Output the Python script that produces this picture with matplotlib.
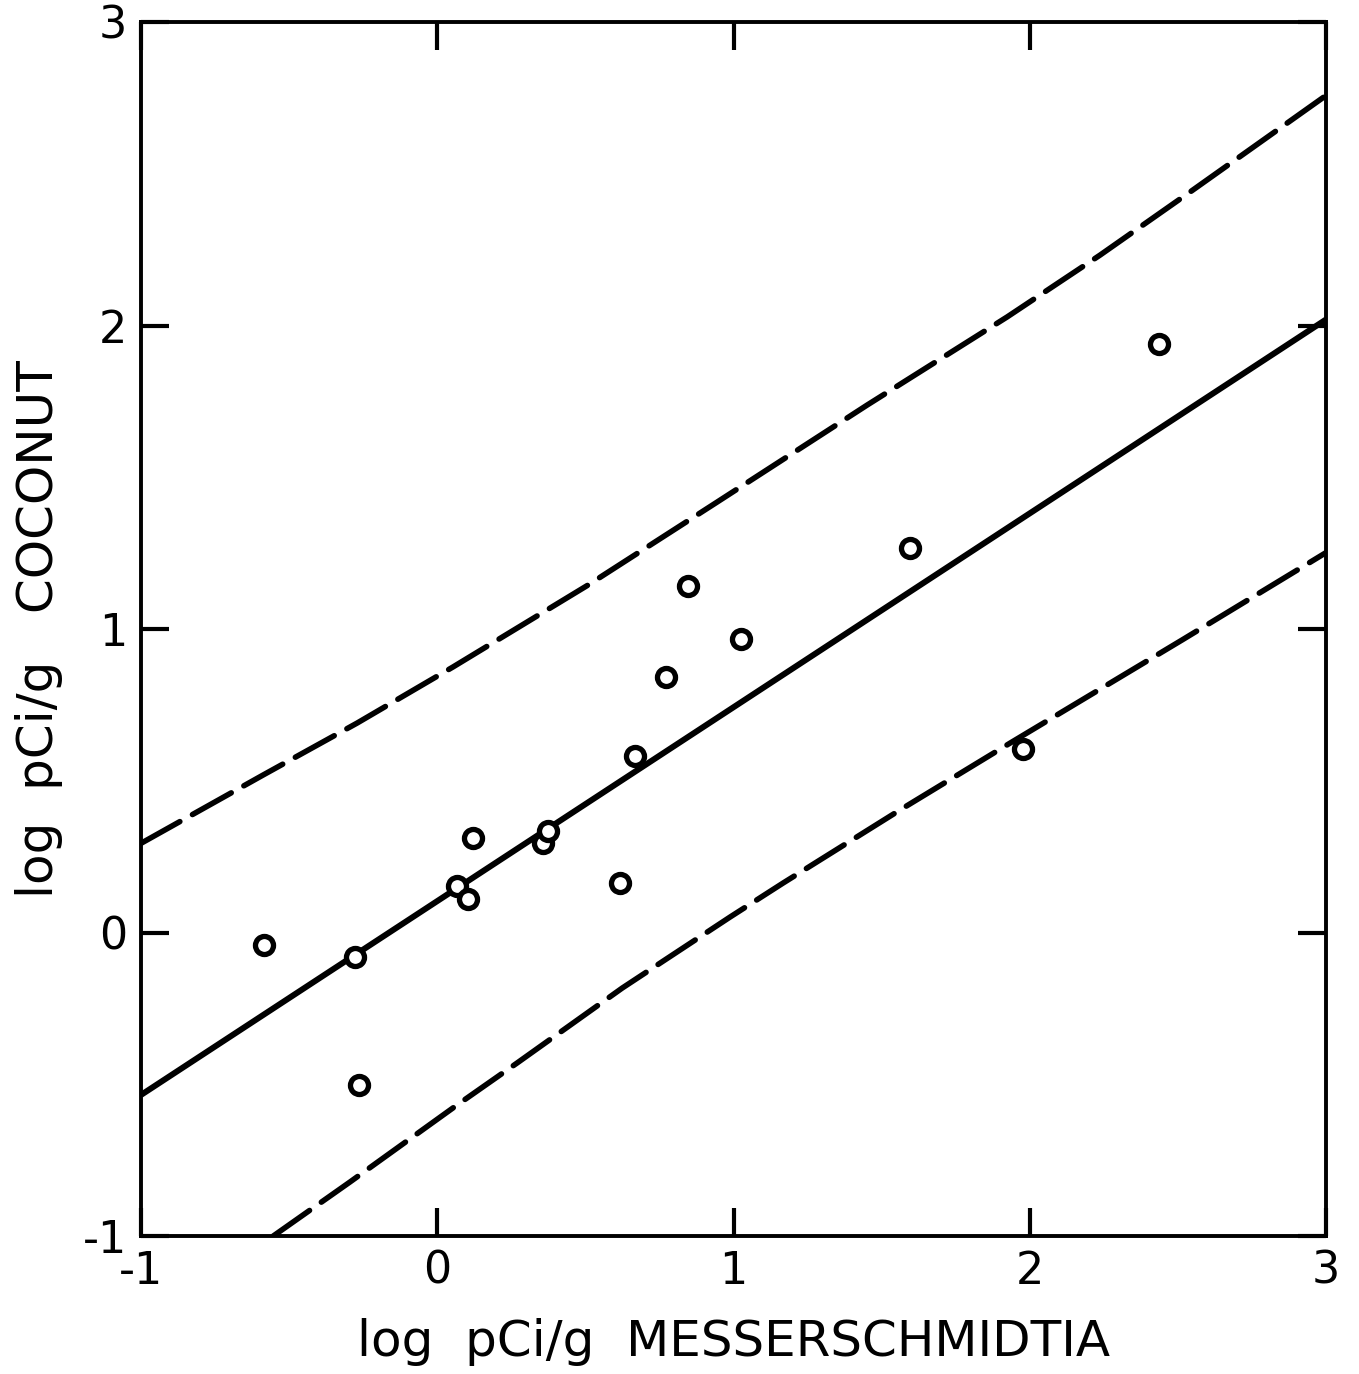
import matplotlib
matplotlib.use('Agg')
import matplotlib.pyplot as plt

# measured points (log pCi/g)
messer = [-0.585, -0.278, -0.264, 0.067, 0.104, 0.121, 0.357, 0.373,
          0.617, 0.668, 0.772, 0.846, 1.025, 1.596, 1.977, 2.436]
coconut = [-0.041, -0.081, -0.502, 0.153, 0.110, 0.311, 0.295, 0.335,
           0.163, 0.582, 0.842, 1.142, 0.967, 1.267, 0.605, 1.939]

# regression line
fit_x = [-1.0, 3.0]
fit_y = [-0.535, 2.02]

# upper / lower limits
upper_x = [-1.0, -0.588, -0.271, 0.053, 0.509, 0.944, 1.451, 1.923,
           2.237, 2.541, 3.0]
upper_y = [0.294, 0.519, 0.690, 0.875, 1.145, 1.418, 1.738, 2.028,
           2.232, 2.440, 2.758]
lower_x = [-0.554, -0.295, 0.067, 0.269, 0.624, 0.988, 1.167, 1.562,
           1.933, 2.514, 3.0]
lower_y = [-1.0, -0.822, -0.568, -0.430, -0.183, 0.051, 0.163, 0.404,
           0.624, 0.964, 1.252]

ticks = [-1, 0, 1, 2, 3]
ticklabels = ['-1', '0', '1', '2', '3']

plt.rcParams['axes.unicode_minus'] = False

fig = plt.figure(figsize=(13.59, 13.74), dpi=100)
ax = fig.add_axes([0.1038, 0.1004, 0.872, 0.8836])

ax.plot(fit_x, fit_y, color='black', lw=4.3, solid_capstyle='butt')
for xs, ys in ((upper_x, upper_y), (lower_x, lower_y)):
  l, = ax.plot(xs, ys, color='black', lw=4.0, dash_capstyle='round')
  l.set_dashes([8, 2.6])
ax.plot(messer, coconut, 'o', ms=13, mfc='white', mec='black', mew=3.8)

ax.set_xlim(-1, 3)
ax.set_ylim(-1, 3)
ax.set_xticks(ticks)
ax.set_yticks(ticks)
ax.set_xticklabels(ticklabels)
ax.set_yticklabels(ticklabels)
ax.tick_params(direction='in', length=20, width=3, top=True, right=True,
               labelsize=32, pad=10)
for s in ax.spines.values():
  s.set_linewidth(2.8)

ax.set_xlabel('log  pCi/g  MESSERSCHMIDTIA', fontsize=36, labelpad=18)
ax.set_ylabel('log  pCi/g   COCONUT', fontsize=36, labelpad=14)

fig.savefig('out.png')
